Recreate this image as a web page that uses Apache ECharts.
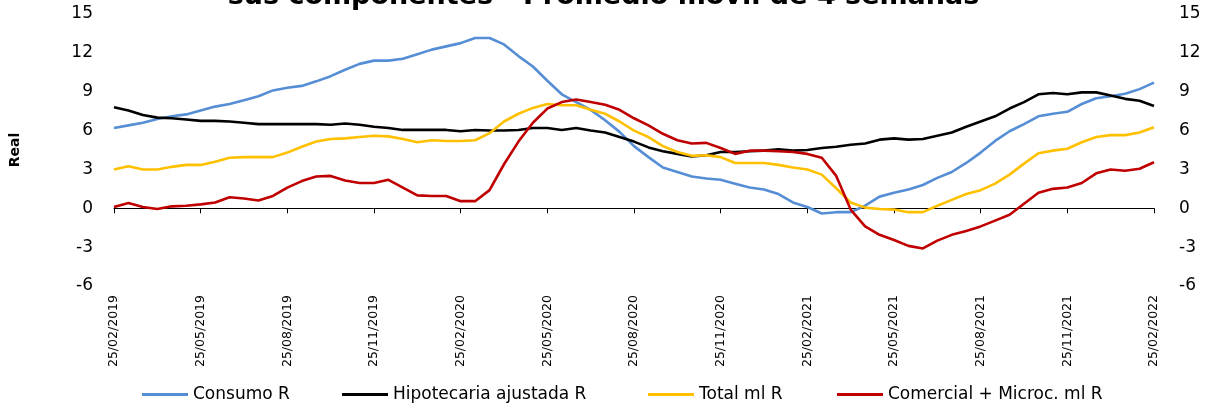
<!DOCTYPE html>
<html>
<head>
<meta charset="utf-8">
<script src="https://cdn.jsdelivr.net/npm/echarts@6/dist/echarts.min.js"></script>
<style>
  html, body { margin: 0; padding: 0; background: #fff; }
  #chart { width: 1207px; height: 406px; }
</style>
</head>
<body>
<div id="chart"></div>
<script>
// semi-monthly points, 25/02/2019 .. 25/02/2022
const categories = [];
for (let j = 0; j <= 36; j++) {
  const m = 1 + j; // months since Jan 2019 (0-based Feb = 1)
  const y1 = 2019 + Math.floor(m / 12), m1 = (m % 12) + 1;
  categories.push('25/' + String(m1).padStart(2, '0') + '/' + y1);
  if (j < 36) {
    const n = m + 1;
    const y2 = 2019 + Math.floor(n / 12), m2 = (n % 12) + 1;
    categories.push('10/' + String(m2).padStart(2, '0') + '/' + y2);
  }
}

const seriesNames = ['Consumo R', 'Hipotecaria ajustada R', 'Total ml R', 'Comercial + Microc. ml R'];

const consumo = [
  6.2, 6.4, 6.6, 6.9, 7.1, 7.25, 7.55, 7.85, 8.05, 8.35, 8.65, 9.1, 9.3, 9.45, 9.8, 10.2,
  10.7, 11.15, 11.4, 11.4, 11.55, 11.9, 12.25, 12.5, 12.75, 13.15, 13.15, 12.65, 11.75, 10.95,
  9.85, 8.8, 8.2, 7.6, 6.8, 5.9, 4.8, 3.95, 3.15, 2.8, 2.45, 2.3, 2.2, 1.9, 1.6, 1.45, 1.1,
  0.45, 0.1, -0.4, -0.3, -0.3, 0.2, 0.9, 1.2, 1.45, 1.8, 2.35, 2.8, 3.5, 4.3, 5.2, 5.95, 6.5,
  7.1, 7.3, 7.45, 8.05, 8.5, 8.65, 8.85, 9.2, 9.7
];
const hipotecaria = [
  7.8, 7.55, 7.2, 7.0, 6.95, 6.85, 6.75, 6.75, 6.7, 6.6, 6.5, 6.5, 6.5, 6.5, 6.5, 6.45,
  6.55, 6.45, 6.3, 6.2, 6.05, 6.05, 6.05, 6.05, 5.95, 6.05, 6.0, 6.0, 6.05, 6.2, 6.2, 6.05,
  6.2, 6.0, 5.85, 5.5, 5.15, 4.7, 4.4, 4.2, 4.0, 4.1, 4.35, 4.35, 4.4, 4.45, 4.55, 4.45,
  4.5, 4.65, 4.75, 4.9, 5.0, 5.3, 5.4, 5.3, 5.35, 5.6, 5.85, 6.3, 6.7, 7.1, 7.7, 8.2, 8.8,
  8.9, 8.8, 8.95, 8.95, 8.7, 8.45, 8.3, 7.9
];
const total = [
  3.0, 3.25, 3.0, 3.0, 3.2, 3.35, 3.35, 3.6, 3.9, 3.95, 3.95, 3.95, 4.3, 4.75, 5.15, 5.35,
  5.4, 5.5, 5.6, 5.55, 5.35, 5.1, 5.25, 5.2, 5.2, 5.25, 5.8, 6.7, 7.3, 7.75, 8.05, 7.95,
  7.95, 7.6, 7.3, 6.7, 6.0, 5.5, 4.8, 4.35, 4.05, 4.1, 3.95, 3.5, 3.5, 3.5, 3.35, 3.15, 3.0,
  2.6, 1.55, 0.45, 0.05, -0.05, -0.1, -0.3, -0.3, 0.2, 0.65, 1.1, 1.4, 1.9, 2.6, 3.45, 4.25,
  4.45, 4.6, 5.1, 5.5, 5.65, 5.65, 5.85, 6.25
];
const comercial = [
  0.1, 0.4, 0.1, -0.05, 0.15, 0.2, 0.3, 0.45, 0.85, 0.75, 0.6, 0.95, 1.6, 2.1, 2.45, 2.5,
  2.15, 1.95, 1.95, 2.2, 1.6, 1.0, 0.95, 0.95, 0.55, 0.55, 1.4, 3.4, 5.15, 6.6, 7.7, 8.2,
  8.4, 8.2, 8.0, 7.6, 6.95, 6.4, 5.75, 5.25, 5.0, 5.05, 4.65, 4.2, 4.45, 4.45, 4.4, 4.35,
  4.2, 3.9, 2.5, -0.1, -1.4, -2.05, -2.45, -2.9, -3.1, -2.5, -2.05, -1.75, -1.4, -0.95,
  -0.5, 0.35, 1.2, 1.5, 1.6, 1.95, 2.7, 3.0, 2.9, 3.05, 3.55
];

const seriesData = [consumo, hipotecaria, total, comercial];
const colors = ['#558ED5', '#000000', '#FFC000', '#C00000'];
const legendLeft = [137, 337, 643, 832];

const font = 'DejaVu Sans';
const chart = echarts.init(document.getElementById('chart'));

const valueAxis = {
  type: 'value',
  min: -6,
  max: 15,
  interval: 3,
  splitLine: { show: false },
  axisLine: { show: false },
  axisTick: { show: false },
  axisLabel: { color: '#000', fontSize: 17, fontFamily: font }
};

chart.setOption({
  animation: false,
  backgroundColor: '#fff',
  title: {
    text: 'sus componentes - Promedio móvil de 4 semanas',
    left: 'center',
    top: -22,
    textStyle: { fontSize: 27, fontWeight: 'bold', fontFamily: font, color: '#000' }
  },
  grid: { left: 114, right: 53, top: 14, bottom: 120 },
  legend: seriesNames.map((n, i) => ({
    data: [n],
    left: legendLeft[i],
    top: 381,
    icon: 'rect',
    itemWidth: 46,
    itemHeight: 3,
    textStyle: { fontSize: 17, fontFamily: font, color: '#000' }
  })),
  xAxis: [
    {
      type: 'category',
      data: categories,
      boundaryGap: false,
      axisLine: { onZero: true, onZeroAxisIndex: 0, lineStyle: { color: '#000', width: 1 } },
      axisTick: { show: true, interval: 5, length: 5, lineStyle: { color: '#000' } },
      axisLabel: { show: false }
    },
    {
      type: 'category',
      data: categories,
      boundaryGap: false,
      position: 'bottom',
      axisLine: { show: false, onZero: false },
      axisTick: { show: false },
      axisLabel: {
        interval: 5,
        rotate: 90,
        margin: 9,
        color: '#000',
        fontSize: 12.5,
        fontFamily: font
      }
    }
  ],
  yAxis: [
    Object.assign({}, valueAxis, {
      position: 'left',
      name: 'Real',
      nameLocation: 'middle',
      nameGap: 92,
      nameTextStyle: { fontSize: 14, fontWeight: 'bold', fontFamily: font, color: '#000' },
      axisLabel: Object.assign({}, valueAxis.axisLabel, { margin: 21 })
    }),
    Object.assign({}, valueAxis, {
      position: 'right',
      axisLabel: Object.assign({}, valueAxis.axisLabel, { margin: 25 })
    })
  ],
  series: seriesNames.map((n, i) => ({
    name: n,
    type: 'line',
    data: seriesData[i],
    xAxisIndex: 0,
    yAxisIndex: 0,
    showSymbol: false,
    symbol: 'none',
    color: colors[i],
    lineStyle: { width: 2.6, color: colors[i] }
  }))
});
</script>
</body>
</html>
